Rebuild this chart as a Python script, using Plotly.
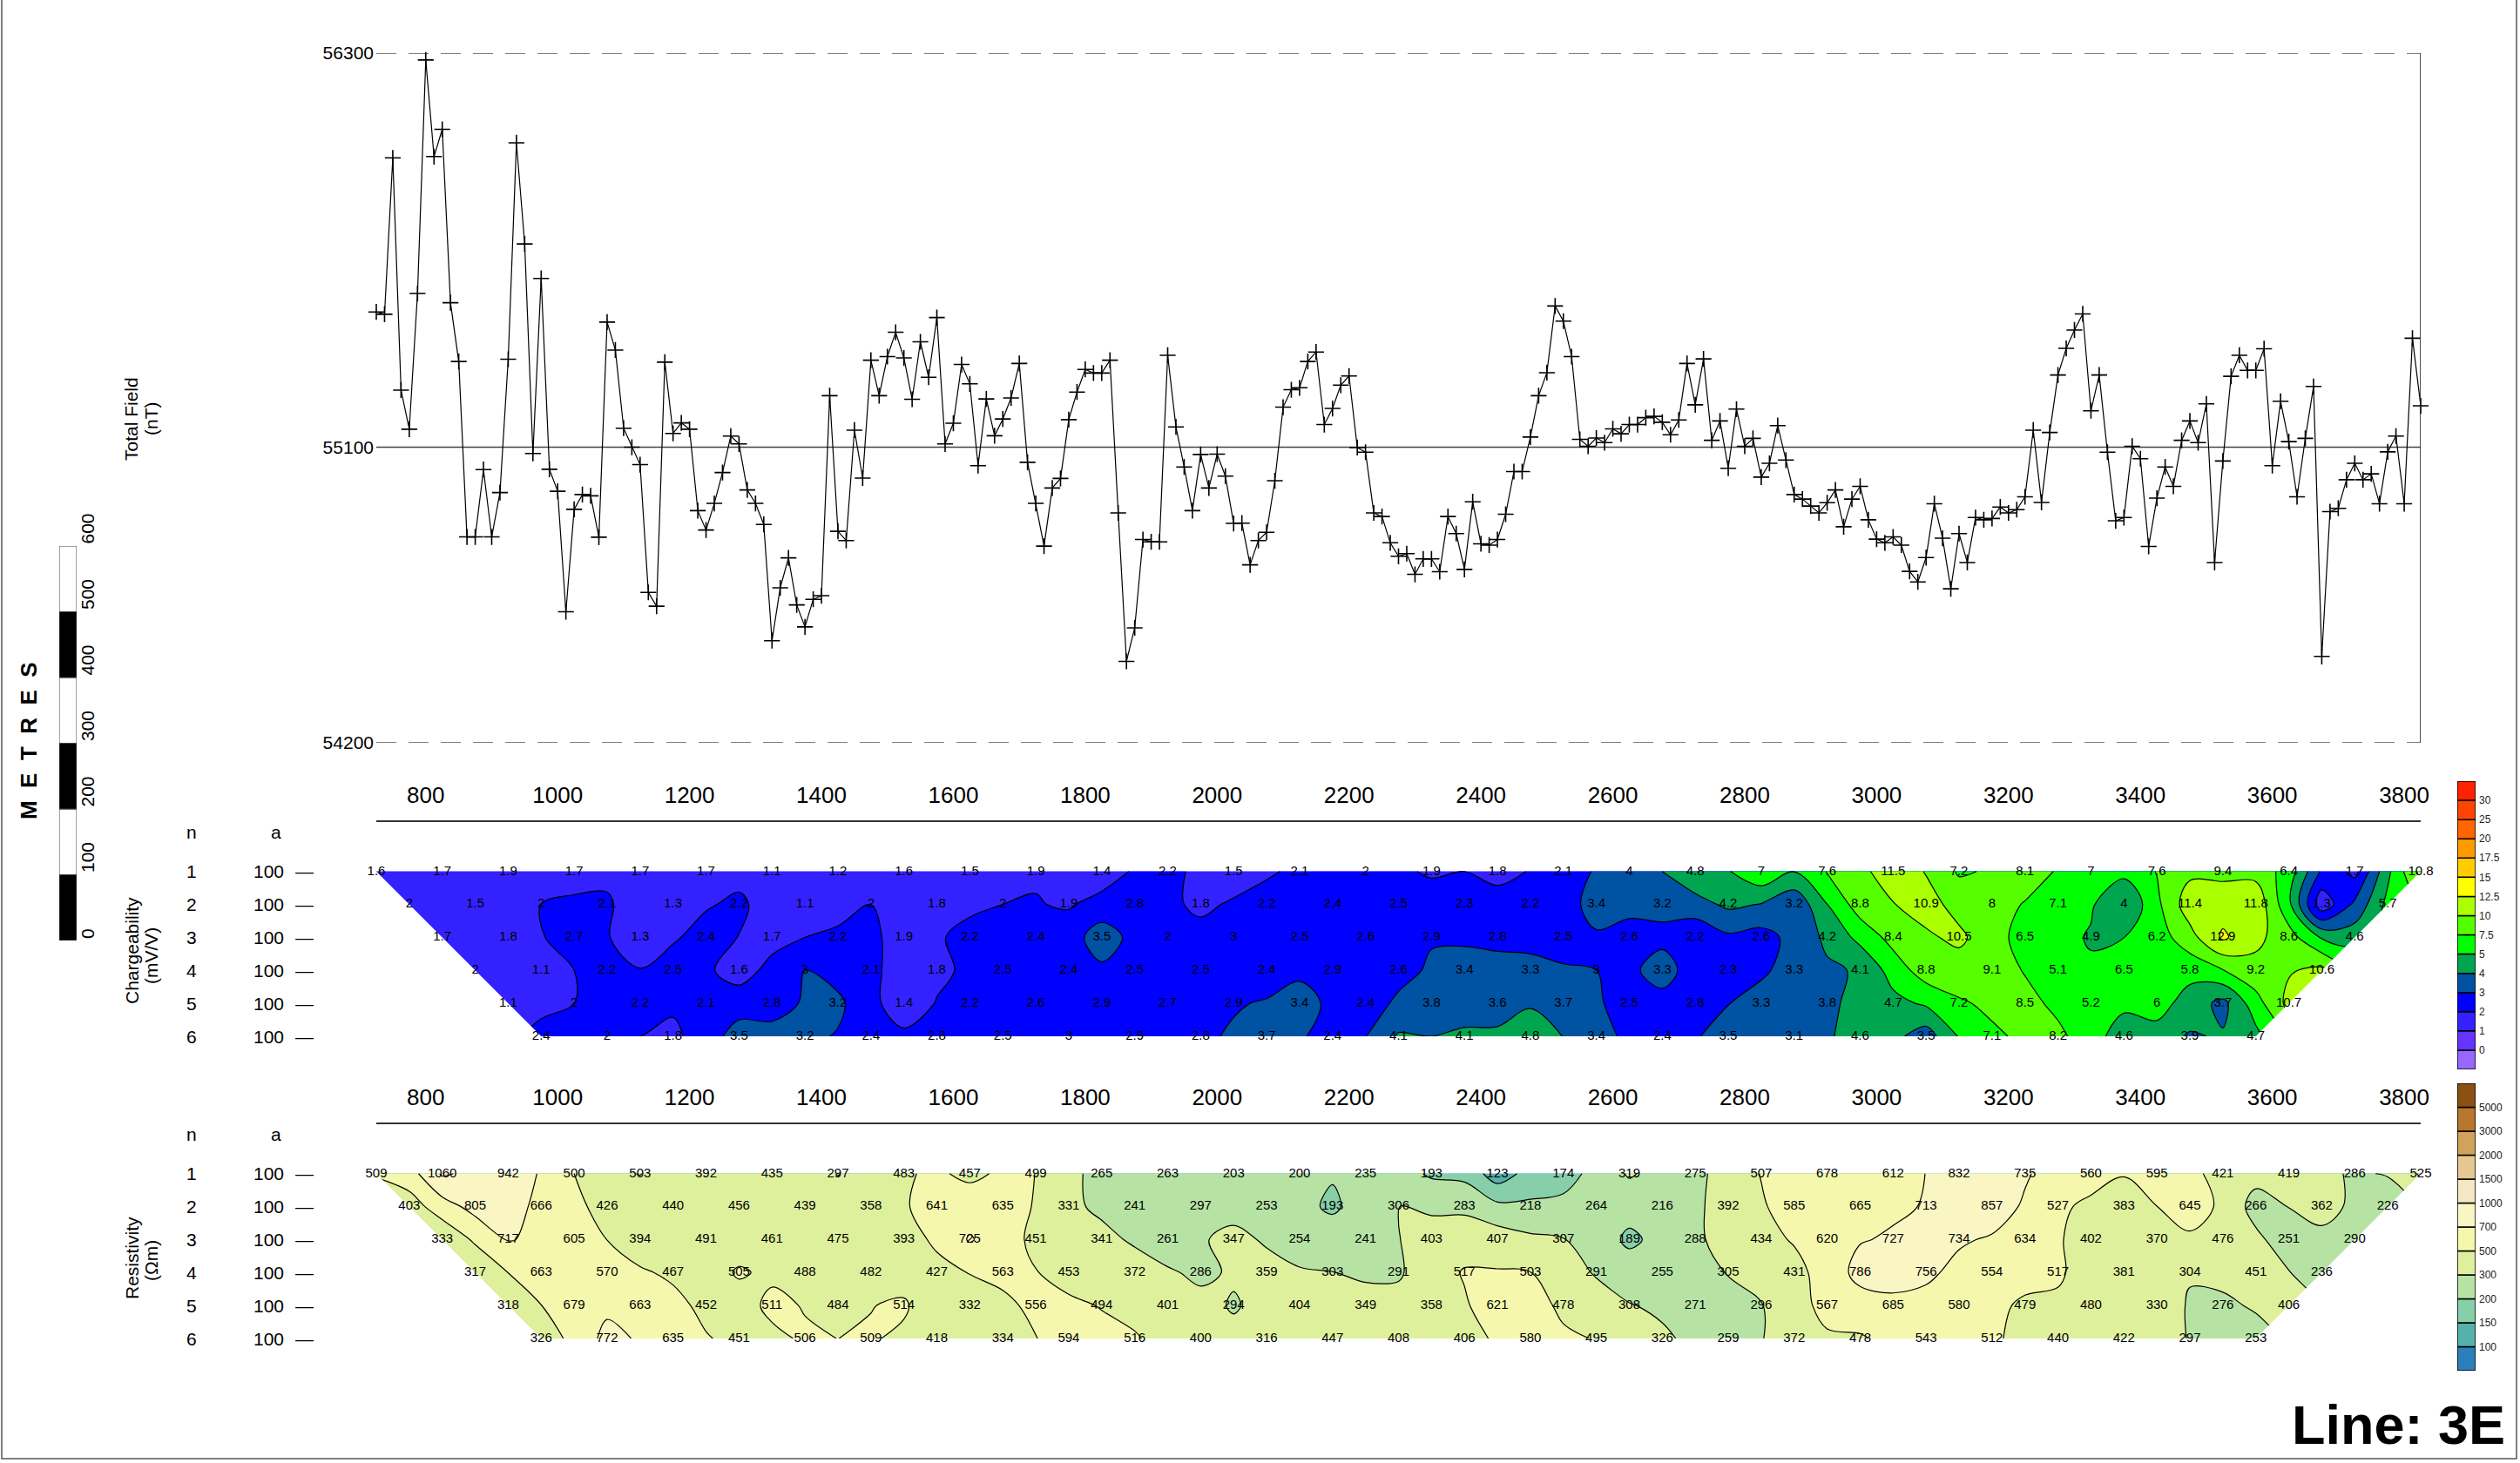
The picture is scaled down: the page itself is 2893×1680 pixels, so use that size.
import numpy as np
import plotly.graph_objects as go

W, H = 2893, 1680
FONT = "Liberation Sans, Arial, Helvetica, sans-serif"


def px_x(px):
    return px / W


def px_y(py):
    return 1 - py / H


# ---------------- DATA ----------------
line_start = 725.0          # first station (m)
mag_step = 12.5             # magnetometer reading interval (m)
dipole = 100.0              # dipole length a (m)

total_field = [
    55512, 55505, 55981, 55274, 55155, 55568, 56279, 55985, 56068, 55540,
    55361, 54827, 54827, 55032, 54827, 54962, 55368, 56027, 55719, 55081,
    55614, 55033, 54966, 54599, 54911, 54956, 54952, 54826, 55481, 55396,
    55158, 55100, 55047, 54658, 54616, 55359, 55142, 55174, 55155, 54907,
    54848, 54929, 55023, 55134, 55110, 54970, 54929, 54865, 54511, 54672,
    54763, 54620, 54553, 54637, 54648, 55257, 54844, 54816, 55152, 55006,
    55365, 55257, 55376, 55450, 55372, 55246, 55421, 55313, 55495, 55110,
    55173, 55352, 55293, 55044, 55247, 55135, 55186, 55250, 55355, 55054,
    54929, 54799, 54976, 55005, 55184, 55268, 55337, 55326, 55326, 55365,
    54900, 54448, 54550, 54819, 54812, 54812, 55380, 55162, 55040, 54907,
    55078, 54976, 55079, 55012, 54868, 54869, 54742, 54816, 54841, 54998,
    55222, 55275, 55281, 55361, 55390, 55169, 55218, 55289, 55317, 55099,
    55085, 54900, 54889, 54809, 54768, 54776, 54713, 54760, 54760, 54721,
    54889, 54837, 54728, 54934, 54806, 54802, 54819, 54896, 55026, 55026,
    55131, 55257, 55327, 55530, 55484, 55376, 55124, 55103, 55128, 55114,
    55156, 55141, 55169, 55169, 55190, 55194, 55176, 55138, 55183, 55355,
    55229, 55369, 55121, 55180, 55036, 55216, 55103, 55127, 55009, 55051,
    55166, 55061, 54956, 54942, 54921, 54900, 54931, 54970, 54858, 54942,
    54981, 54879, 54820, 54809, 54827, 54802, 54722, 54690, 54764, 54928,
    54823, 54669, 54837, 54749, 54886, 54879, 54883, 54918, 54900, 54910,
    54949, 55152, 54932, 55145, 55320, 55401, 55457, 55506, 55211, 55320,
    55085, 54876, 54886, 55103, 55065, 54798, 54945, 55040, 54981, 55121,
    55180, 55114, 55232, 54749, 55058, 55316, 55380, 55334, 55334, 55400,
    55044, 55240, 55117, 54949, 55127, 55285, 54463, 54904, 54914, 55001,
    55051, 55001, 55019, 54928, 55086, 55134, 54928, 55432, 55226,
]
mag_station = line_start + mag_step * np.arange(len(total_field))
mag_ticks = [54200, 55100, 56300]

n_levels = [1, 2, 3, 4, 5, 6]
a_spacing = [100, 100, 100, 100, 100, 100]

chg_n1 = [1.6, 1.7, 1.9, 1.7, 1.7, 1.7, 1.1, 1.2, 1.6, 1.5, 1.9, 1.4, 2.2, 1.5, 2.1, 2, 1.9, 1.8, 2.1, 4,
          4.8, 7, 7.6, 11.5, 7.2, 8.1, 7, 7.6, 9.4, 6.4, 1.7, 10.8]
chg_n2 = [2, 1.5, 2, 2.1, 1.3, 2.2, 1.1, 2, 1.8, 2, 1.9, 2.8, 1.8, 2.2, 2.4, 2.5, 2.3, 2.2, 3.4, 3.2,
          4.2, 3.2, 8.8, 10.9, 8, 7.1, 4, 11.4, 11.8, 1.3, 5.7]
chg_n3 = [1.7, 1.8, 2.7, 1.3, 2.4, 1.7, 2.2, 1.9, 2.2, 2.4, 3.5, 2, 3, 2.5, 2.6, 2.9, 2.8, 2.5, 2.6, 2.2,
          2.6, 4.2, 8.4, 10.5, 6.5, 4.9, 6.2, 12.9, 8.6, 4.6]
chg_n4 = [2, 1.1, 2.2, 2.5, 1.6, 3, 2.1, 1.8, 2.5, 2.4, 2.5, 2.5, 2.4, 2.9, 2.6, 3.4, 3.3, 3, 3.3, 2.3,
          3.3, 4.1, 8.8, 9.1, 5.1, 6.5, 5.8, 9.2, 10.6]
chg_n5 = [1.1, 2, 2.2, 2.1, 2.8, 3.2, 1.4, 2.2, 2.6, 2.9, 2.7, 2.9, 3.4, 2.4, 3.8, 3.6, 3.7, 2.5, 2.8, 3.3,
          3.8, 4.7, 7.2, 8.5, 5.2, 6, 3.7, 10.7]
chg_n6 = [2.4, 2, 1.8, 3.5, 3.2, 2.4, 2.8, 2.5, 3, 2.9, 2.8, 3.7, 2.4, 4.1, 4.1, 4.8, 3.4, 2.4, 3.5, 3.1,
          4.6, 3.5, 7.1, 8.2, 4.6, 3.9, 4.7]
chargeability = [chg_n1, chg_n2, chg_n3, chg_n4, chg_n5, chg_n6]

res_n1 = [509, 1060, 942, 500, 503, 392, 435, 297, 483, 457, 499, 265, 263, 203, 200, 235, 193, 123, 174, 319,
          275, 507, 678, 612, 832, 735, 560, 595, 421, 419, 286, 525]
res_n2 = [403, 805, 666, 426, 440, 456, 439, 358, 641, 635, 331, 241, 297, 253, 193, 306, 283, 218, 264, 216,
          392, 585, 665, 713, 857, 527, 383, 645, 266, 362, 226]
res_n3 = [333, 717, 605, 394, 491, 461, 475, 393, 725, 451, 341, 261, 347, 254, 241, 403, 407, 307, 189, 288,
          434, 620, 727, 734, 634, 402, 370, 476, 251, 290]
res_n4 = [317, 663, 570, 467, 505, 488, 482, 427, 563, 453, 372, 286, 359, 303, 291, 517, 503, 291, 255, 305,
          431, 786, 756, 554, 517, 381, 304, 451, 236]
res_n5 = [318, 679, 663, 452, 511, 484, 514, 332, 556, 494, 401, 294, 404, 349, 358, 621, 478, 308, 271, 296,
          567, 685, 580, 479, 480, 330, 276, 406]
res_n6 = [326, 772, 635, 451, 506, 509, 418, 334, 594, 516, 400, 316, 447, 408, 406, 580, 495, 326, 259, 372,
          478, 543, 512, 440, 422, 297, 253]
resistivity = [res_n1, res_n2, res_n3, res_n4, res_n5, res_n6]

xtick_vals = [800, 1000, 1200, 1400, 1600, 1800, 2000, 2200, 2400, 2600, 2800, 3000, 3200, 3400, 3600, 3800]

chg_levels = [0, 1, 2, 3, 4, 5, 7.5, 10, 12.5, 15, 17.5, 20, 25, 30]
chg_colors = ['#9966FF', '#6633FF', '#3322FF', '#0000FF', '#0052A3', '#00A550', '#00FF00', '#55FF00',
              '#AAFF00', '#FFFF00', '#FFCC00', '#FF9900', '#FF6600', '#FF4400', '#FF2200']
res_levels = [100, 150, 200, 300, 500, 700, 1000, 1500, 2000, 3000, 5000]
res_colors = ['#2B7FBB', '#55B2AA', '#86CFA9', '#B6E3A3', '#DFF09C', '#F5F8AC', '#FAF6C4', '#F5E6C4',
              '#E5C88F', '#D0A25A', '#B8752B', '#8C5012']

scale_marks = [0, 100, 200, 300, 400, 500, 600]
scale_colors = ['black', 'white', 'black', 'white', 'black', 'white']

# ---------------- GEOMETRY ----------------
x_range = [line_start, float(mag_station[-1])]
plot_x_dom = [px_x(432), px_x(2779)]
grid_x = line_start + np.arange(0, 2 * len(chg_n1) - 1) * dipole / 2


def row_x(n, count):
    return [line_start + (n - 1) * dipole / 2 + i * dipole for i in range(count)]


fig = go.Figure()

# ---- Top panel: magnetics ----
fig.add_trace(go.Scatter(
    x=mag_station, y=total_field, mode='lines+markers', xaxis='x', yaxis='y',
    line=dict(color='black', width=1.2),
    marker=dict(symbol='cross-thin', size=13, color='black', line=dict(color='black', width=1.6)),
    hoverinfo='skip', cliponaxis=False))


def contour_trace(rows, levels, colors, xa, ya):
    idx = np.arange(len(levels))
    z = [[None] * len(grid_x) for _ in rows]
    for r, row in enumerate(rows):
        for i, v in enumerate(row):
            z[r][r + 2 * i] = float(np.interp(v, levels, idx))
    ncol = len(colors)
    cs = [[k / (ncol - 1), c] for k, c in enumerate(colors)]
    return go.Contour(
        x=grid_x, y=n_levels, z=z, xaxis=xa, yaxis=ya,
        autocontour=False,
        contours=dict(start=0, end=len(levels) - 1, size=1, coloring='fill', showlines=True),
        colorscale=cs, showscale=False, connectgaps=True,
        line=dict(color='black', width=1.2, smoothing=1.0), hoverinfo='skip')


def mask_traces(rows, xa, ya):
    first = [row_x(n_levels[r], len(rows[r]))[0] for r in range(len(rows))]
    last = [row_x(n_levels[r], len(rows[r]))[-1] for r in range(len(rows))]
    top, bot = n_levels[0], n_levels[-1]
    left = dict(x=[first[0] - 80, first[0], first[0], first[-1], first[-1], first[0] - 80],
                y=[top - 0.2, top - 0.2, top, bot, bot + 0.2, bot + 0.2])
    right = dict(x=[last[0] + 80, last[0], last[0], last[-1], last[-1], last[0] + 80],
                 y=[top - 0.2, top - 0.2, top, bot, bot + 0.2, bot + 0.2])
    out = []
    for poly in (left, right):
        out.append(go.Scatter(x=poly['x'], y=poly['y'], fill='toself', fillcolor='white',
                              mode='lines', line=dict(width=0, color='white'),
                              xaxis=xa, yaxis=ya, hoverinfo='skip'))
    return out


def label_trace(rows, fmt, xa, ya):
    xs, ys, ts = [], [], []
    for r, row in enumerate(rows):
        n = n_levels[r]
        xs += row_x(n, len(row))
        ys += [n] * len(row)
        ts += [fmt(v) for v in row]
    return go.Scatter(x=xs, y=ys, text=ts, mode='text', xaxis=xa, yaxis=ya,
                      textfont=dict(size=15, color='black', family=FONT),
                      cliponaxis=False, hoverinfo='skip')


# ---- Chargeability pseudosection ----
fig.add_trace(contour_trace(chargeability, chg_levels, chg_colors, 'x2', 'y2'))
for t in mask_traces(chargeability, 'x2', 'y2'):
    fig.add_trace(t)
fig.add_trace(label_trace(chargeability, lambda v: f"{v:g}", 'x2', 'y2'))

# ---- Resistivity pseudosection ----
fig.add_trace(contour_trace(resistivity, res_levels, res_colors, 'x3', 'y3'))
for t in mask_traces(resistivity, 'x3', 'y3'):
    fig.add_trace(t)
fig.add_trace(label_trace(resistivity, lambda v: f"{int(v)}", 'x3', 'y3'))

# ---- Scale bar ----
fig.add_trace(go.Bar(
    x=[0] * (len(scale_marks) - 1), y=np.diff(scale_marks), base=scale_marks[:-1], width=1,
    marker=dict(color=scale_colors, line=dict(color='#444', width=1)),
    xaxis='x4', yaxis='y4', hoverinfo='skip'))

# ---- Legend bars ----
fig.add_trace(go.Bar(
    x=[0] * len(chg_colors), y=[1] * len(chg_colors), base=list(range(len(chg_colors))), width=1,
    marker=dict(color=chg_colors, line=dict(color='black', width=1.5)),
    xaxis='x5', yaxis='y5', hoverinfo='skip'))
fig.add_trace(go.Bar(
    x=[0] * len(res_colors), y=[1] * len(res_colors), base=list(range(len(res_colors))), width=1,
    marker=dict(color=res_colors, line=dict(color='black', width=1.5)),
    xaxis='x6', yaxis='y6', hoverinfo='skip'))

# ---------------- LAYOUT ----------------
pseudo_range = [6, -0.5]
axis_common = dict(showgrid=False, zeroline=False, automargin=False)

layout = dict(
    template='none',
    width=W, height=H, autosize=False,
    margin=dict(l=0, r=0, t=0, b=0, pad=0, autoexpand=False),
    paper_bgcolor='white', plot_bgcolor='white', showlegend=False, barmode='overlay',
    font=dict(family=FONT, color='black'),
    xaxis=dict(domain=plot_x_dom, range=x_range, visible=False, anchor='y', **axis_common),
    yaxis=dict(domain=[px_y(853), px_y(61)], range=[mag_ticks[0], mag_ticks[-1]], anchor='x',
               tickvals=mag_ticks, ticktext=[str(v) for v in mag_ticks], ticks='',
               tickfont=dict(size=21), ticklabelstandoff=2, showline=False, **axis_common),
    xaxis2=dict(domain=plot_x_dom, range=x_range, anchor='y2', side='top', tickvals=xtick_vals,
                tickfont=dict(size=26), showline=True, linecolor='#333', linewidth=2, ticks='',
                ticklabelstandoff=10, **axis_common),
    yaxis2=dict(domain=[px_y(1190), px_y(944)], range=pseudo_range, anchor='x2', visible=False,
                **axis_common),
    xaxis3=dict(domain=plot_x_dom, range=x_range, anchor='y3', side='top', tickvals=xtick_vals,
                tickfont=dict(size=26), showline=True, linecolor='#333', linewidth=2, ticks='',
                ticklabelstandoff=10, **axis_common),
    yaxis3=dict(domain=[px_y(1537), px_y(1291)], range=pseudo_range, anchor='x3', visible=False,
                **axis_common),
    xaxis4=dict(domain=[px_x(68), px_x(88)], range=[-0.5, 0.5], anchor='y4', visible=False, **axis_common),
    yaxis4=dict(domain=[px_y(1080), px_y(627)], range=[scale_marks[0], scale_marks[-1]], anchor='x4',
                visible=False, **axis_common),
    xaxis5=dict(domain=[px_x(2821), px_x(2842)], range=[-0.5, 0.5], anchor='y5', visible=False,
                **axis_common),
    yaxis5=dict(domain=[px_y(1228), px_y(897)], range=[0, len(chg_colors)], anchor='x5', side='right',
                tickvals=list(range(1, len(chg_colors))), ticktext=[f"{v:g}" for v in chg_levels],
                ticks='', tickfont=dict(size=12, color='#222'), ticklabelstandoff=3, showline=False,
                **axis_common),
    xaxis6=dict(domain=[px_x(2821), px_x(2842)], range=[-0.5, 0.5], anchor='y6', visible=False,
                **axis_common),
    yaxis6=dict(domain=[px_y(1574), px_y(1244)], range=[0, len(res_colors)], anchor='x6', side='right',
                tickvals=list(range(1, len(res_colors))), ticktext=[str(v) for v in res_levels],
                ticks='', tickfont=dict(size=12, color='#222'), ticklabelstandoff=3, showline=False,
                **axis_common),
)
fig.update_layout(**layout)

# ---- Shapes ----
shapes = []
for v in mag_ticks:
    mid = (v == mag_ticks[1])
    shapes.append(dict(type='line', xref='x domain', yref='y', x0=0, x1=1, y0=v, y1=v, layer='below',
                       line=dict(color='#444' if mid else '#808080', width=1.6 if mid else 2,
                                 dash='solid' if mid else '23px,14px')))
shapes.append(dict(type='line', xref='x', yref='y', x0=x_range[1], x1=x_range[1],
                   y0=mag_ticks[0], y1=mag_ticks[-1], line=dict(color='#222', width=1.6)))
# faint grid base lines under the pseudosections
for xr, yr, col in (('x2', 'y2', '#A0A0FF'), ('x3', 'y3', '#DDEFC8')):
    shapes.append(dict(type='line', xref=xr, yref=yr, x0=x_range[0], x1=x_range[1],
                       y0=n_levels[-1], y1=n_levels[-1], layer='below', line=dict(color=col, width=1.5)))
# page frame
shapes.append(dict(type='rect', xref='paper', yref='paper', x0=px_x(2), x1=px_x(2889),
                   y0=px_y(1675), y1=1.01, line=dict(color='#555', width=1.5)))
fig.update_layout(shapes=shapes)

# ---- Annotations ----
ann = []


def txt(text, x, y, size, yref='paper', angle=0, xanchor='center', yanchor='middle', bold=False):
    ann.append(dict(text=f"<b>{text}</b>" if bold else text, x=x, y=y, xref='paper', yref=yref,
                    showarrow=False, textangle=angle, xanchor=xanchor, yanchor=yanchor,
                    font=dict(size=size, family=FONT, color='black')))


# axis titles
txt("Total Field", px_x(151), px_y(481), 21, angle=-90)
txt("(nT)", px_x(174), px_y(481), 21, angle=-90)
txt("Chargeability", px_x(151), px_y(1092), 21, angle=-90)
txt("(mV/V)", px_x(173), px_y(1098), 21, angle=-90)
txt("Resistivity", px_x(151), px_y(1445), 21, angle=-90)
txt("(Ωm)", px_x(173), px_y(1448), 21, angle=-90)

# n / a tables
for ya in ('y2', 'y3'):
    txt("n", px_x(220), -0.2, 21, yref=ya)
    txt("a", px_x(317), -0.2, 21, yref=ya)
    for n, a in zip(n_levels, a_spacing):
        txt(str(n), px_x(220), n, 21, yref=ya)
        txt(str(a), px_x(308), n, 21, yref=ya)
        txt("—", px_x(349), n, 21, yref=ya)

# scale bar labels and title
for v in scale_marks:
    txt(str(v), px_x(100), v, 21, yref='y4', angle=-90, yanchor='bottom')
sp = "\u00a0\u00a0"
txt(sp.join("METRES"), px_x(33), px_y(851), 26, angle=-90, bold=True)

# line label
txt("Line: 3E", px_x(2878), px_y(1636), 63, xanchor='right', bold=True)

fig.update_layout(annotations=ann)

page_fix = ("document.documentElement.style.margin='0';document.body.style.margin='0';"
            "document.documentElement.style.overflow='hidden';document.body.style.overflow='hidden';")
fig.write_html("out.html", config={"displayModeBar": False}, post_script=page_fix)
